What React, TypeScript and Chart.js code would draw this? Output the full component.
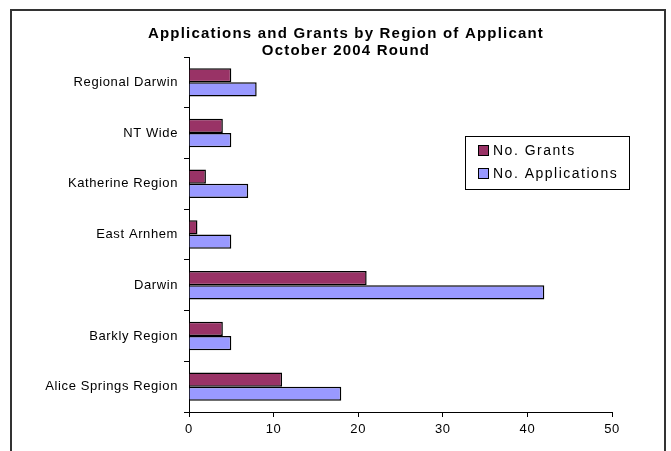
import React, { useEffect, useRef } from "react";
import { Chart, registerables } from "chart.js";

Chart.register(...registerables);

const categories = [
  "Regional Darwin",
  "NT Wide",
  "Katherine Region",
  "East Arnhem",
  "Darwin",
  "Barkly Region",
  "Alice Springs Region",
];
const grants = [5, 4, 2, 1, 21, 4, 11];
const applications = [8, 5, 7, 5, 42, 5, 18];
const seriesNames = ["No. Grants", "No. Applications"];
const seriesColors = ["#993366", "#9999FF"];
const titleLines = ["Applications and Grants by Region of Applicant", "October 2004 Round"];
const xTicks = [0, 10, 20, 30, 40, 50];

const FONT = "'Liberation Sans', Arial, sans-serif";

const spacingPlugin = {
  id: "spacing",
  beforeUpdate(chart: any) {
    (chart.ctx as any).letterSpacing = "0.6px";
  },
  beforeDraw(chart: any) {
    (chart.ctx as any).letterSpacing = "0.6px";
  },
};

const decorPlugin = {
  id: "decor",
  afterDraw(chart: any) {
    const ctx = chart.ctx as any;
    ctx.save();
    // frame
    ctx.strokeStyle = "#333333";
    ctx.lineWidth = 2;
    ctx.beginPath();
    ctx.moveTo(11, 460);
    ctx.lineTo(11, 10);
    ctx.lineTo(665, 10);
    ctx.lineTo(665, 460);
    ctx.stroke();
    // title
    ctx.fillStyle = "#000";
    ctx.font = `bold 15px ${FONT}`;
    ctx.letterSpacing = "1.2px";
    ctx.textAlign = "center";
    ctx.textBaseline = "middle";
    titleLines.forEach((t: string, i: number) => ctx.fillText(t, 346, 34 + i * 17));
    // legend
    ctx.lineWidth = 1;
    ctx.strokeStyle = "#000";
    ctx.fillStyle = "#fff";
    ctx.fillRect(465.5, 136.5, 164, 53);
    ctx.strokeRect(465.5, 136.5, 164, 53);
    ctx.font = `14px ${FONT}`;
    ctx.letterSpacing = "1.5px";
    ctx.textAlign = "left";
    seriesNames.forEach((n, i) => {
      const cy = 151 + i * 23;
      ctx.fillStyle = seriesColors[i];
      ctx.fillRect(478.5, cy - 5.5, 10, 10);
      ctx.strokeStyle = "#000";
      ctx.strokeRect(478.5, cy - 5.5, 10, 10);
      ctx.fillStyle = "#000";
      ctx.fillText(n, 493, cy);
    });
    ctx.restore();
  },
};

export default function App() {
  const ref = useRef<HTMLCanvasElement>(null);
  useEffect(() => {
    if (!ref.current) return;
    const chart = new Chart(ref.current, {
      type: "bar",
      data: {
        labels: categories,
        datasets: [
          {
            label: seriesNames[0],
            data: grants,
            backgroundColor: seriesColors[0],
            borderColor: "#000",
            borderWidth: 1.5,
            categoryPercentage: 0.56,
            barPercentage: 1,
          },
          {
            label: seriesNames[1],
            data: applications,
            backgroundColor: seriesColors[1],
            borderColor: "#000",
            borderWidth: 1.5,
            categoryPercentage: 0.56,
            barPercentage: 1,
          },
        ],
      },
      options: {
        indexAxis: "y",
        animation: false,
        responsive: false,
        layout: { padding: { top: 57, right: 59, bottom: 0, left: 0 } },
        plugins: {
          legend: { display: false },
          title: { display: false },
          tooltip: { enabled: false },
        },
        scales: {
          x: {
            min: 0,
            max: 50,
            afterBuildTicks: (scale: any) => {
              scale.ticks = xTicks.map((v) => ({ value: v }));
            },
            afterFit: (scale: any) => {
              scale.height = 39;
            },
            grid: {
              drawOnChartArea: false,
              drawTicks: true,
              tickLength: 5,
              color: "#000",
            },
            border: { display: true, color: "#000", width: 1 },
            ticks: {
              color: "#000",
              font: { family: FONT, size: 13 },
              padding: 5,
            },
          },
          y: {
            afterFit: (scale: any) => {
              scale.width = 189;
            },
            grid: {
              drawOnChartArea: false,
              drawTicks: true,
              tickLength: 5,
              color: "#000",
              offset: true,
            },
            border: { display: true, color: "#000", width: 1 },
            ticks: {
              color: "#000",
              font: { family: FONT, size: 13 },
              padding: 6,
            },
          },
        },
      },
      plugins: [spacingPlugin, decorPlugin],
    });
    return () => chart.destroy();
  }, []);
  return (
    <div style={{ position: "fixed", left: 0, top: 0, width: 671, height: 451, background: "#fff" }}>
      <canvas ref={ref} width={671} height={451} style={{ width: 671, height: 451 }} />
    </div>
  );
}
